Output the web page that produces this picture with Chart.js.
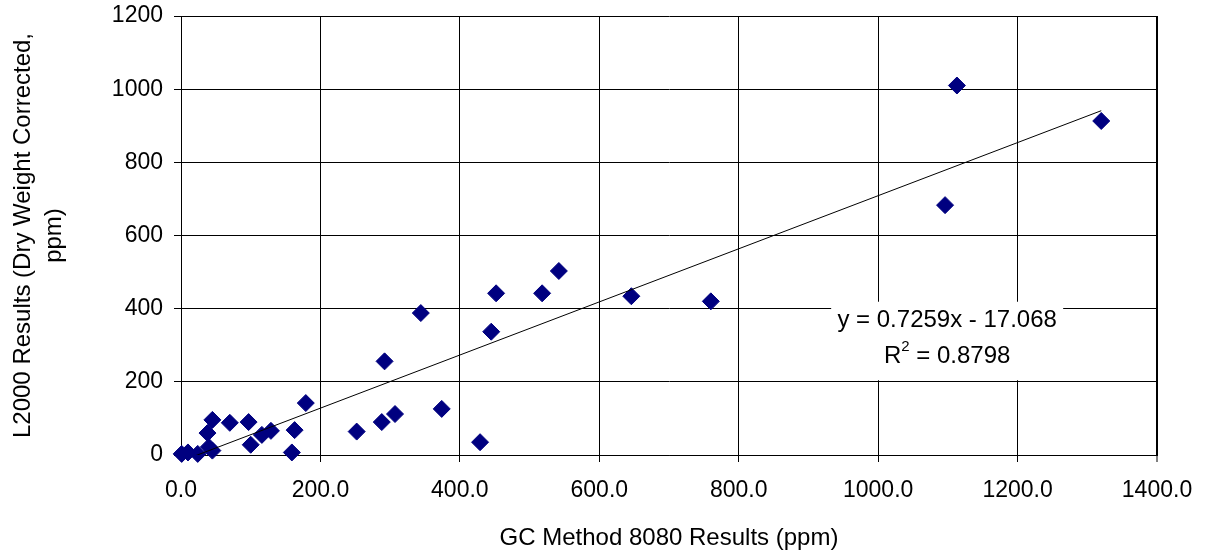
<!DOCTYPE html>
<html>
<head>
<meta charset="utf-8">
<script src="https://cdn.jsdelivr.net/npm/chart.js@4/dist/chart.umd.min.js"></script>
<style>
    html, body { margin: 0; padding: 0; background: #fff; }
    #wrap { width: 1207px; height: 550px; }
</style>
</head>
<body>
<div id="wrap"><canvas id="scatter-chart" width="1207" height="550"></canvas></div>
<script>
// GC Method 8080 results (x) vs L2000 results (y), ppm
const gcValues = [1, 10, 24, 38, 40, 45, 45, 70, 97, 100, 116, 129, 159, 163, 179,
    252, 288, 292, 307, 344, 374, 429, 445, 452, 518, 542, 646, 760, 1096, 1113, 1320];
const l2000Values = [3, 7, 3, 60, 22, 12, 96, 88, 90, 28, 55, 66, 7, 68, 142,
    64, 90, 256, 112, 388, 126, 35, 337, 442, 442, 503, 434, 420, 683, 1010, 913];

const xTicks = [0, 200, 400, 600, 800, 1000, 1200, 1400];
const yTicks = [0, 200, 400, 600, 800, 1000, 1200];

const trendSlope = 0.7259;
const trendIntercept = -17.068;
const trendR2 = 0.8798;

const points = gcValues.map((x, i) => ({ x: x, y: l2000Values[i] }));
const xMin = Math.min(...gcValues);
const xMax = Math.max(...gcValues);
const trendPoints = [xMin, xMax].map(x => ({ x: x, y: trendSlope * x + trendIntercept }));

const FONT = 'Arial, "Liberation Sans", sans-serif';

// equation box drawn over the grid, like the Excel trendline label
const equationLabel = {
    id: 'equationLabel',
    afterDraw(chart) {
        const ctx = chart.ctx;
        const xs = chart.scales.x;
        const ys = chart.scales.y;
        const cx = xs.getPixelForValue(1099);
        const y1 = ys.getPixelForValue(367);
        const y2 = ys.getPixelForValue(270);

        ctx.save();
        ctx.fillStyle = '#fff';
        ctx.fillRect(cx - 116, y1 - 19, 232, (y2 - y1) + 43);

        ctx.fillStyle = '#000';
        ctx.font = '24px ' + FONT;
        ctx.textBaseline = 'middle';
        ctx.textAlign = 'center';
        const sign = trendIntercept < 0 ? ' - ' : ' + ';
        ctx.fillText('y = ' + trendSlope.toFixed(4) + 'x' + sign + Math.abs(trendIntercept).toFixed(3), cx, y1);

        // R² with a real superscript
        const partR = 'R';
        const partRest = ' = ' + trendR2.toFixed(4);
        ctx.font = '24px ' + FONT;
        const wR = ctx.measureText(partR).width;
        const wRest = ctx.measureText(partRest).width;
        ctx.font = '15px ' + FONT;
        const wSup = ctx.measureText('2').width;
        let x = cx - (wR + wSup + wRest) / 2;
        ctx.textAlign = 'left';
        ctx.font = '24px ' + FONT;
        ctx.fillText(partR, x, y2);
        x += wR;
        ctx.font = '15px ' + FONT;
        ctx.fillText('2', x, y2 - 9);
        x += wSup;
        ctx.font = '24px ' + FONT;
        ctx.fillText(partRest, x, y2);
        ctx.restore();
    }
};

new Chart(document.getElementById('scatter-chart').getContext('2d'), {
    type: 'scatter',
    data: {
        datasets: [{
            label: 'Linear trend',
            type: 'line',
            data: trendPoints,
            borderColor: '#000',
            borderWidth: 1,
            pointRadius: 0,
            fill: false,
            order: 1
        }, {
            label: 'L2000 vs GC',
            data: points,
            pointStyle: 'rectRot',
            pointRadius: 8.5,
            pointHoverRadius: 8.5,
            backgroundColor: '#000080',
            borderColor: '#000080',
            borderWidth: 1,
            clip: false,
            order: 2
        }]
    },
    options: {
        responsive: false,
        animation: false,
        events: [],
        layout: {
            padding: { top: 16, right: 50, bottom: 0, left: 0 }
        },
        plugins: {
            legend: { display: false },
            tooltip: { enabled: false }
        },
        scales: {
            x: {
                type: 'linear',
                min: xTicks[0],
                max: xTicks[xTicks.length - 1],
                afterFit: scale => {
                    scale.height = 95;
                    scale.paddingLeft = 0;
                    scale.paddingRight = 0;
                },
                afterBuildTicks: scale => { scale.ticks = xTicks.map(v => ({ value: v })); },
                ticks: {
                    color: '#000',
                    padding: 15,
                    maxRotation: 0,
                    font: { family: FONT, size: 23 },
                    callback: v => Number(v).toFixed(1)
                },
                grid: {
                    color: '#000',
                    lineWidth: c => (c.tick && c.tick.value === xTicks[xTicks.length - 1]) ? 2 : 1,
                    tickLength: 7,
                    tickColor: '#000',
                    tickWidth: 1
                },
                border: { color: '#000', width: 1 },
                title: {
                    display: true,
                    text: 'GC Method 8080 Results (ppm)',
                    color: '#000',
                    font: { family: FONT, size: 24, lineHeight: 1 },
                    padding: { top: 0, bottom: 0 }
                }
            },
            y: {
                type: 'linear',
                min: yTicks[0],
                max: yTicks[yTicks.length - 1],
                afterFit: scale => {
                    scale.width = 181;
                    scale.paddingTop = 0;
                    scale.paddingBottom = 0;
                },
                afterBuildTicks: scale => { scale.ticks = yTicks.map(v => ({ value: v })); },
                ticks: {
                    color: '#000',
                    padding: 11,
                    font: { family: FONT, size: 23 },
                    callback: v => String(v)
                },
                grid: {
                    color: '#000',
                    lineWidth: 1,
                    tickLength: 7,
                    tickColor: '#000',
                    tickWidth: 1
                },
                border: { color: '#000', width: 1 },
                title: {
                    display: true,
                    text: ['L2000 Results (Dry Weight Corrected,', 'ppm)'],
                    color: '#000',
                    font: { family: FONT, size: 24, lineHeight: 1.3 },
                    padding: { top: 8, bottom: 0 }
                }
            }
        }
    },
    plugins: [equationLabel]
});
</script>
</body>
</html>
